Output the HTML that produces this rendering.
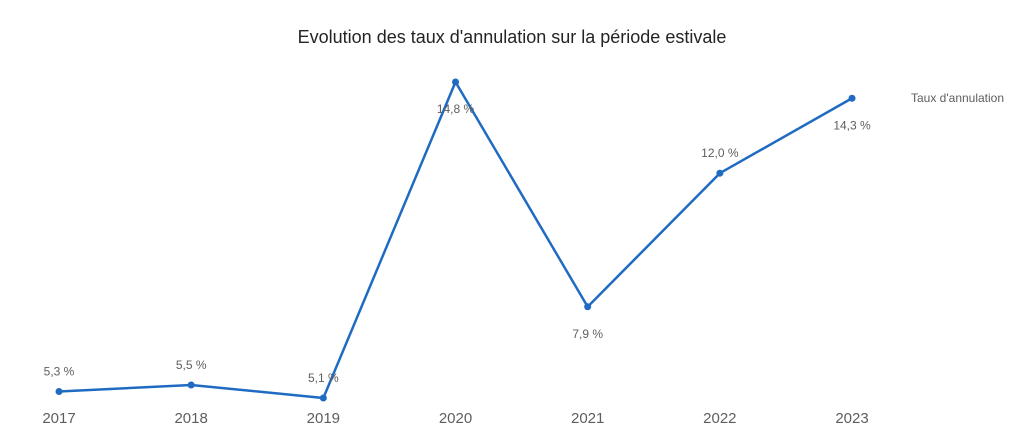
<!DOCTYPE html>
<html><head><meta charset="utf-8"><style>
body{margin:0;background:#fff;width:1024px;height:436px;overflow:hidden;font-family:"Liberation Sans",sans-serif}
</style></head><body>
<svg width="1024" height="436" xmlns="http://www.w3.org/2000/svg">
<text x="512" y="43" text-anchor="middle" font-size="18" fill="#252423">Evolution des taux d'annulation sur la période estivale</text>
<text x="911" y="102" font-size="12" fill="#605e5c">Taux d'annulation</text>
<g id="plot"></g>
</svg>
<script>
const categories=["2017","2018","2019","2020","2021","2022","2023"];
const values=[5.3,5.5,5.1,14.8,7.9,12.0,14.3];
const labels=["5,3 %","5,5 %","5,1 %","14,8 %","7,9 %","12,0 %","14,3 %"];
const placement=["above","above","above","below","below","above","below"];
const NS="http://www.w3.org/2000/svg";
const g=document.getElementById("plot");
function xs(i){return 59+i*132.17;}
function ys(v){return 398-(v-5.1)*32.58;}
function mk(t,a){const e=document.createElementNS(NS,t);for(const k in a)e.setAttribute(k,a[k]);g.appendChild(e);return e;}
const path=mk("path",{d:values.map((v,i)=>(i?"L":"M")+xs(i)+","+ys(v)).join(""),fill:"none",stroke:"#1f6bc2","stroke-width":2.5,"stroke-linejoin":"round"});


values.forEach((v,i)=>{
const c=mk("circle",{cx:xs(i),cy:ys(v),r:3.5,fill:"#1f6bc2"});


const ly=placement[i]==="above"?ys(v)-16:ys(v)+31;
const t=mk("text",{x:xs(i),y:ly,"text-anchor":"middle","font-size":12,fill:"#605e5c"});
t.textContent=labels[i];


const a=mk("text",{x:xs(i),y:423,"text-anchor":"middle","font-size":15,fill:"#605e5c"});
a.textContent=categories[i];


});
</script>
</body></html>
